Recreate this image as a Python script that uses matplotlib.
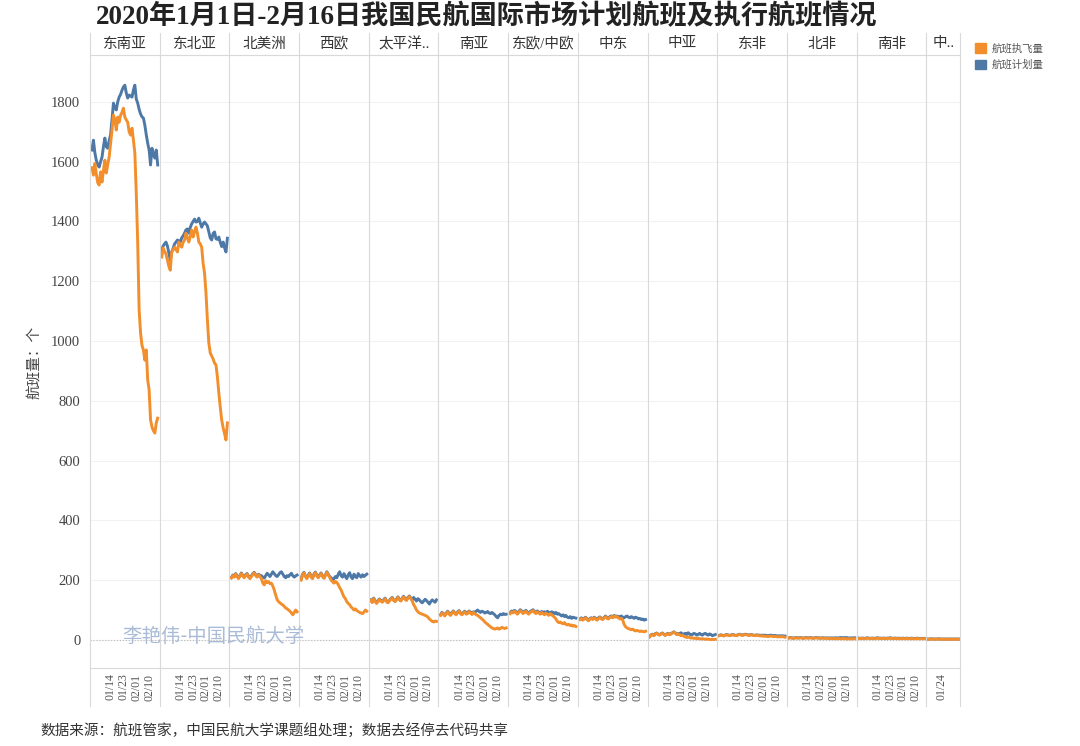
import matplotlib
matplotlib.use("Agg")
import matplotlib.pyplot as plt
import matplotlib.dates as mdates
from matplotlib.lines import Line2D
from matplotlib.patches import Patch
from matplotlib import transforms
import pandas as pd

plt.rcParams['font.family'] = ['Liberation Serif', 'Noto Sans CJK SC', 'DejaVu Sans']

# 区域名称（Tableau 截断后的文字）
regions = ['东南亚', '东北亚', '北美洲', '西欧', '太平洋..', '南亚', '东欧/中欧',
           '中东', '中亚', '东非', '北非', '南非', '中..']

dates = pd.date_range('2020-01-01', '2020-02-16')
dates_last = pd.date_range('2020-01-14', '2020-02-06')

# 航班执飞量 / 航班计划量
exec_sea = [1580, 1555, 1594, 1560, 1530, 1522, 1566, 1532, 1570, 1605,
            1562, 1590, 1615, 1660, 1706, 1756, 1740, 1706, 1749, 1732,
            1755, 1765, 1779, 1749, 1740, 1732, 1700, 1689, 1712, 1672,
            1629, 1495, 1328, 1104, 1027, 985, 970, 936, 970, 870,
            836, 736, 712, 700, 692, 726, 742]
plan_sea = [1639, 1672, 1630, 1605, 1590, 1582, 1600, 1615, 1650, 1679,
            1650, 1645, 1670, 1690, 1740, 1796, 1780, 1773, 1800, 1816,
            1825, 1839, 1850, 1856, 1830, 1813, 1823, 1820, 1816, 1840,
            1856, 1810, 1796, 1775, 1760, 1750, 1746, 1722, 1690, 1662,
            1639, 1589, 1645, 1625, 1612, 1639, 1589]
exec_nea = [1281, 1311, 1300, 1291, 1271, 1250, 1237, 1298, 1305, 1314,
            1306, 1298, 1331, 1320, 1314, 1330, 1338, 1361, 1345, 1331,
            1350, 1371, 1348, 1365, 1381, 1361, 1331, 1325, 1314, 1260,
            1227, 1161, 1070, 993, 960, 950, 940, 926, 920, 880,
            826, 779, 736, 710, 690, 669, 726]
plan_nea = [1304, 1318, 1325, 1331, 1318, 1295, 1271, 1298, 1310, 1325,
            1331, 1338, 1335, 1331, 1345, 1352, 1361, 1372, 1375, 1361,
            1380, 1392, 1400, 1408, 1398, 1400, 1411, 1395, 1381, 1392,
            1398, 1392, 1385, 1365, 1345, 1338, 1360, 1365, 1342, 1340,
            1348, 1330, 1316, 1331, 1312, 1298, 1344]
exec_nam = [207, 215, 210, 220, 212, 205, 214, 222, 213, 208,
            216, 220, 210, 205, 212, 220, 224, 215, 210, 218,
            212, 205, 190, 184, 198, 192, 195, 188, 190, 180,
            167, 150, 135, 128, 124, 120, 117, 112, 107, 104,
            100, 96, 90, 84, 92, 100, 94]
plan_nam = [209, 217, 213, 222, 214, 208, 216, 224, 215, 211,
            218, 222, 213, 208, 214, 222, 226, 218, 213, 220,
            215, 215, 210, 207, 215, 223, 218, 212, 220, 228,
            222, 215, 212, 218, 225, 228, 220, 212, 208, 215,
            212, 218, 223, 215, 210, 214, 217]
exec_weu = [200, 218, 224, 212, 205, 215, 222, 210, 205, 218,
            225, 214, 208, 216, 222, 212, 206, 215, 226, 218,
            210, 200, 195, 190, 196, 192, 185, 175, 167, 155,
            144, 138, 128, 122, 118, 110, 106, 100, 104, 98,
            95, 92, 90, 88, 93, 100, 96]
plan_weu = [203, 220, 226, 214, 208, 217, 224, 213, 207, 220,
            227, 216, 210, 218, 224, 214, 208, 217, 228, 220,
            212, 208, 200, 205, 212, 208, 220, 228, 215, 210,
            222, 212, 205, 218, 225, 210, 205, 220, 212, 208,
            222, 215, 210, 218, 212, 216, 220]
exec_pac = [132, 125, 138, 130, 122, 128, 135, 130, 126, 132,
            138, 128, 124, 130, 136, 140, 132, 128, 135, 142,
            134, 130, 138, 144, 136, 132, 140, 145, 138, 130,
            118, 110, 100, 94, 90, 88, 86, 84, 82, 80,
            76, 70, 66, 62, 60, 63, 62]
plan_pac = [134, 127, 140, 132, 124, 130, 137, 132, 128, 134,
            140, 130, 126, 132, 138, 142, 134, 130, 137, 144,
            136, 132, 140, 146, 138, 134, 142, 147, 140, 134,
            142, 136, 130, 138, 134, 128, 124, 130, 136, 132,
            126, 120, 128, 134, 130, 126, 134]
exec_sas = [82, 90, 86, 80, 88, 94, 86, 82, 90, 95,
            88, 84, 92, 96, 88, 84, 90, 94, 86, 88,
            95, 90, 85, 92, 88, 84, 82, 78, 74, 70,
            66, 60, 56, 52, 48, 44, 40, 38, 36, 38,
            40, 36, 38, 42, 40, 38, 40]
plan_sas = [84, 92, 88, 83, 90, 96, 89, 85, 92, 97,
            90, 87, 94, 98, 90, 87, 92, 96, 89, 91,
            97, 93, 88, 94, 92, 96, 100, 95, 92, 96,
            94, 90, 92, 95, 90, 88, 92, 88, 84, 78,
            74, 82, 86, 84, 88, 85, 86]
exec_eeu = [88, 94, 90, 96, 92, 86, 92, 98, 94, 88,
            92, 96, 90, 86, 92, 95, 98, 92, 88, 94,
            90, 86, 92, 88, 84, 90, 86, 82, 88, 84,
            80, 76, 70, 62, 58, 60, 56, 54, 58, 52,
            50, 52, 48, 50, 46, 48, 45]
plan_eeu = [91, 97, 93, 99, 95, 89, 95, 101, 97, 91,
            95, 99, 93, 89, 95, 98, 101, 95, 91, 97,
            93, 89, 95, 92, 94, 90, 96, 92, 90, 94,
            92, 88, 92, 86, 88, 84, 80, 84, 78, 82,
            76, 74, 78, 72, 76, 74, 73]
exec_mea = [68, 72, 66, 70, 74, 68, 64, 70, 72, 68,
            74, 70, 66, 72, 75, 70, 68, 74, 78, 72,
            70, 76, 78, 74, 80, 76, 78, 74, 70, 72,
            66, 52, 44, 40, 38, 36, 34, 36, 32, 30,
            32, 30, 28, 30, 28, 27, 29]
plan_mea = [70, 74, 68, 72, 76, 70, 66, 72, 74, 70,
            76, 72, 68, 74, 77, 72, 70, 76, 80, 74,
            72, 78, 80, 76, 82, 78, 80, 76, 78, 80,
            76, 74, 78, 80, 76, 74, 78, 75, 72, 76,
            74, 70, 72, 68, 70, 66, 68]
exec_cas = [10, 16, 18, 14, 20, 22, 18, 16, 20, 22,
            18, 15, 19, 21, 17, 20, 23, 26, 22, 18,
            20, 17, 14, 16, 12, 10, 8, 10, 8, 6,
            7, 5, 6, 4, 5, 4, 3, 4, 3, 2,
            3, 2, 2, 1, 2, 1, 2]
plan_cas = [11, 17, 19, 15, 21, 23, 19, 17, 21, 23,
            19, 16, 20, 22, 18, 21, 24, 27, 23, 19,
            21, 20, 24, 18, 20, 22, 18, 24, 20, 16,
            18, 22, 20, 16, 18, 22, 18, 16, 20, 22,
            18, 16, 20, 18, 14, 16, 18]
exec_eaf = [14, 16, 15, 13, 15, 17, 16, 14, 15, 17,
            16, 15, 14, 16, 18, 17, 15, 16, 18, 17,
            16, 15, 17, 16, 15, 14, 16, 15, 14, 13,
            14, 12, 13, 12, 11, 12, 13, 12, 11, 12,
            11, 10, 11, 10, 11, 10, 9]
plan_eaf = [15, 17, 16, 14, 16, 18, 17, 15, 16, 18,
            17, 16, 15, 17, 19, 18, 16, 17, 19, 18,
            17, 16, 18, 17, 16, 15, 17, 16, 16, 15,
            16, 15, 16, 15, 14, 15, 16, 15, 14, 15,
            14, 13, 14, 13, 14, 13, 13]
exec_naf = [6, 7, 6, 5, 6, 7, 6, 6, 7, 6,
            5, 6, 7, 6, 6, 7, 6, 5, 6, 7,
            6, 6, 5, 6, 6, 5, 6, 5, 5, 4,
            5, 4, 5, 4, 4, 5, 4, 4, 5, 4,
            4, 3, 4, 4, 3, 4, 4]
plan_naf = [7, 8, 7, 6, 7, 8, 7, 7, 8, 7,
            6, 7, 8, 7, 7, 8, 7, 6, 7, 8,
            7, 7, 6, 7, 7, 6, 7, 6, 7, 6,
            7, 6, 7, 7, 6, 7, 8, 7, 8, 7,
            8, 7, 6, 7, 6, 7, 7]
exec_saf = [5, 4, 5, 5, 4, 5, 6, 5, 4, 5,
            5, 4, 5, 6, 5, 5, 4, 5, 5, 4,
            5, 5, 6, 5, 4, 5, 5, 4, 5, 4,
            4, 5, 4, 4, 5, 4, 4, 5, 4, 4,
            4, 5, 4, 4, 4, 4, 4]
plan_saf = [6, 5, 6, 6, 5, 6, 7, 6, 5, 6,
            6, 5, 6, 7, 6, 6, 5, 6, 6, 5,
            6, 6, 7, 6, 5, 6, 6, 5, 6, 5,
            5, 6, 5, 5, 6, 5, 5, 6, 5, 5,
            5, 6, 5, 5, 5, 5, 5]
exec_cam = [3, 2, 3, 3, 2, 3, 2, 3, 3, 2, 3, 2,
            2, 3, 2, 2, 3, 2, 2, 2, 3, 2, 2, 2]
plan_cam = [3, 3, 3, 4, 3, 3, 3, 3, 4, 3, 3, 3,
            3, 3, 3, 3, 3, 3, 3, 3, 3, 3, 3, 3]

exec_all = [exec_sea, exec_nea, exec_nam, exec_weu, exec_pac, exec_sas, exec_eeu,
            exec_mea, exec_cas, exec_eaf, exec_naf, exec_saf, exec_cam]
plan_all = [plan_sea, plan_nea, plan_nam, plan_weu, plan_pac, plan_sas, plan_eeu,
            plan_mea, plan_cas, plan_eaf, plan_naf, plan_saf, plan_cam]

tick_dates = pd.to_datetime(['2020-01-14', '2020-01-23', '2020-02-01', '2020-02-10'])
tick_last = pd.to_datetime(['2020-01-24'])
yticks = list(range(0, 2000, 200))

c_exec = '#F28E2B'
c_plan = '#4E79A7'
c_sep = '#d9d9d9'

W, H = 1080, 746
fig = plt.figure(figsize=(W / 100, H / 100), dpi=100)

# 版面（像素）
x_left = 90
pw = 69.7
pw_last = 34
y_top, y_bot = 55, 668
y_head, y_band = 33, 706

day = pd.Timedelta(days=1)
bounds = [x_left]
for i, reg in enumerate(regions):
    last = (i == len(regions) - 1)
    w = pw_last if last else pw
    x0 = bounds[-1]
    bounds.append(x0 + w)
    ax = fig.add_axes([x0 / W, 1 - y_bot / H, w / W, (y_bot - y_top) / H])
    xs = dates_last if last else dates
    ax.plot(xs, plan_all[i], color=c_plan, lw=2.1, solid_joinstyle='round')
    ax.plot(xs, exec_all[i], color=c_exec, lw=2.1, solid_joinstyle='round')
    ax.set_ylim(-94, 1957)
    if last:
        ax.set_xlim(pd.Timestamp('2020-01-13 12:00'), pd.Timestamp('2020-01-13 12:00') + 23.8 * day)
        ax.set_xticks(tick_last)
    else:
        ax.set_xlim(dates[0] - 1.4 * day, dates[-1] + 1.4 * day)
        ax.set_xticks(tick_dates)
    ax.xaxis.set_major_formatter(mdates.DateFormatter('%m/%d'))
    ax.tick_params(axis='x', length=0, pad=4, labelsize=8.5, labelcolor='#555555', labelrotation=90)
    ax.set_yticks(yticks)
    ax.tick_params(axis='y', length=0, pad=7, labelsize=10.5, labelcolor='#444444', labelleft=(i == 0))
    for s in ax.spines.values():
        s.set_visible(False)
    ax.grid(axis='y', color='#f2f2f2', lw=0.8)
    ax.set_axisbelow(True)
    ax.axhline(0, color='#bbbbbb', lw=0.8, ls=':', zorder=1)
    tr = transforms.blended_transform_factory(ax.transAxes, fig.transFigure)
    ax.text(0.5, 1 - 44 / H, reg, transform=tr, ha='center', va='center',
            fontsize=10.5, color='#333333')

# 分隔线
for xb in bounds:
    fig.add_artist(Line2D([xb / W, xb / W], [1 - y_head / H, 1 - y_band / H], color=c_sep, lw=0.8))
for yb in (y_top, y_bot):
    fig.add_artist(Line2D([x_left / W, bounds[-1] / W], [1 - yb / H, 1 - yb / H], color=c_sep, lw=0.8))

fig.text(487 / W, 1 - 17 / H, '2020年1月1日-2月16日我国民航国际市场计划航班及执行航班情况',
         ha='center', va='center', fontsize=19.5, fontweight='bold', color='#222222')
fig.text(35 / W, 1 - 362 / H, '航班量：个', rotation=90, ha='center', va='center',
         fontsize=10.5, color='#444444')
fig.text(122 / W, 1 - 636 / H, '李艳伟-中国民航大学', ha='left', va='center', fontsize=14,
         color='#a9bbd6', family=['Noto Sans CJK SC'])
fig.text(40 / W, 1 - 731 / H, '数据来源：航班管家，中国民航大学课题组处理；数据去经停去代码共享',
         ha='left', va='center', fontsize=10.5, color='#333333')

fig.legend(handles=[Patch(color=c_exec, label='航班执飞量'), Patch(color=c_plan, label='航班计划量')],
           loc='upper left', bbox_to_anchor=(966 / W, 1 - 34 / H), frameon=False,
           fontsize=7.5, handlelength=1.0, handleheight=1.0, handletextpad=0.6,
           labelspacing=0.6, labelcolor='#555555')

fig.savefig('out.png', dpi=100)
